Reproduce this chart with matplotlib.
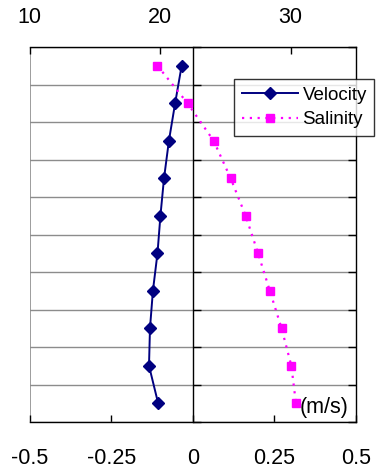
import matplotlib
matplotlib.use("Agg")
import matplotlib.pyplot as plt
from matplotlib.lines import Line2D

plt.rcParams['font.family'] = ['Liberation Sans', 'DejaVu Sans']

# Depth layers (top to bottom), plotted at the centre of each band
layers = [0.5, 1.5, 2.5, 3.5, 4.5, 5.5, 6.5, 7.5, 8.5, 9.5]
velocity = [-0.034, -0.054, -0.073, -0.088, -0.099, -0.108, -0.122, -0.131, -0.134, -0.106]
salinity = [19.8, 22.1, 24.1, 25.4, 26.55, 27.5, 28.4, 29.3, 30.05, 30.4]

vel_ticks = [-0.5, -0.25, 0, 0.25, 0.5]
vel_labels = ['-0.5', '-0.25', '0', '0.25', '0.5']
sal_ticks = [10, 20, 30]
sal_labels = ['10', '20', '30']

W, H = 376, 470
fig = plt.figure(figsize=(W / 100, H / 100), dpi=100)
left, right, top, bottom = 29.5, 356, 47, 422
ax = fig.add_axes([left / W, 1 - bottom / H, (right - left) / W, (bottom - top) / H])

navy = '#000080'
magenta = '#FF00FF'

ax.set_xlim(-0.5, 0.5)
ax.set_ylim(10, 0)
ax.set_yticks(range(0, 11))
ax.set_yticklabels([])
ax.yaxis.grid(True, color='#8c8c8c', lw=1)
ax.set_axisbelow(True)

# vertical axis sits at zero velocity
ax.spines['left'].set_position(('data', 0))
for s in ax.spines.values():
    s.set_linewidth(1)
ax.tick_params(axis='y', left=True, right=True, direction='in', length=6, width=1)
ax.axvline(-0.5, color='#8c8c8c', lw=1.2, zorder=0)

ax.set_xticks(vel_ticks)
ax.set_xticklabels(vel_labels, fontsize=15.5)
ax.tick_params(axis='x', direction='in', length=5, width=1, pad=19)

ax.plot(velocity, layers, color=navy, lw=1.4, marker='D', ms=6.5,
        markeredgecolor=navy, markerfacecolor=navy, zorder=3)

ax2 = ax.twiny()
ax2.set_xlim(10, 35)
ax2.set_xticks(sal_ticks)
ax2.set_xticklabels(sal_labels, fontsize=15.5)
ax2.tick_params(axis='x', direction='in', length=5, width=1, pad=14)
for s in ax2.spines.values():
    s.set_visible(False)
ax2.plot(salinity, layers, color=magenta, lw=1.6, ls=(0, (1, 2.5)), marker='s', ms=6,
         markeredgecolor=magenta, markerfacecolor=magenta, zorder=3)
ax2.set_ylim(10, 0)

handles = [
    Line2D([], [], color=navy, lw=1.4, marker='D', ms=6.5),
    Line2D([], [], color=magenta, lw=1.6, ls=(0, (1, 2.5)), marker='s', ms=6),
]
leg = fig.legend(handles, ['Velocity', 'Salinity'], loc='upper left',
                 bbox_to_anchor=(234 / W, 1 - 79 / H), fontsize=13.5,
                 frameon=True, fancybox=False, edgecolor='black',
                 handlelength=3.0, handletextpad=0.25, borderpad=0.4,
                 labelspacing=0.4, borderaxespad=0)
leg.get_frame().set_linewidth(1)

fig.text(300 / W, 1 - 407 / H, '(m/s)', fontsize=15.5, va='center', ha='left')

fig.savefig('out.png', dpi=100)
